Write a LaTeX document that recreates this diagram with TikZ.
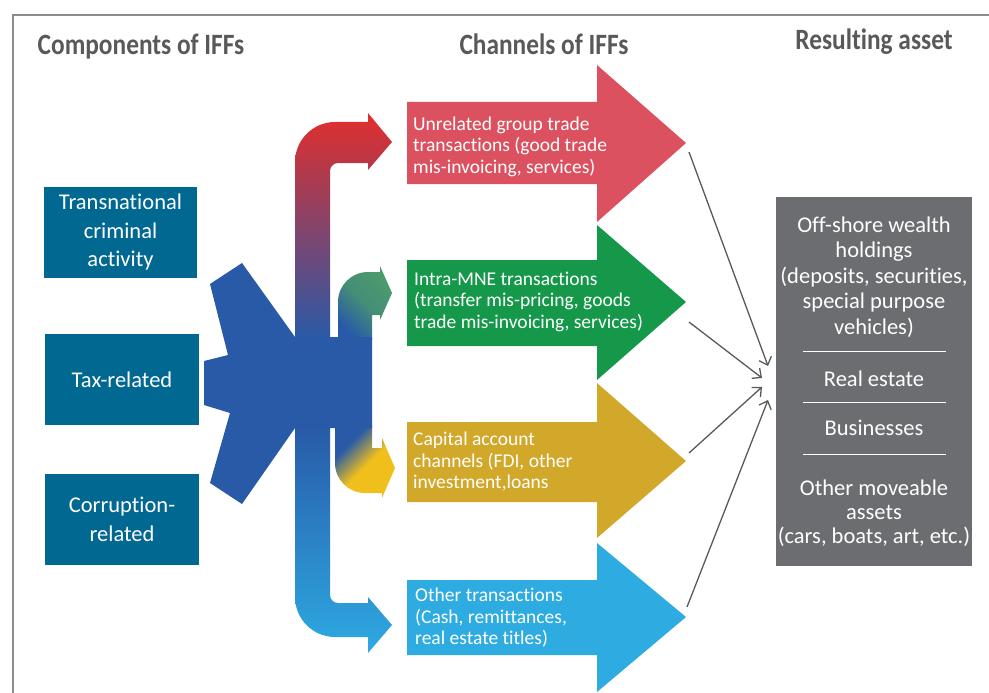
\documentclass[tikz,border=0pt]{standalone}
\usepackage{fontspec}
\setmainfont{Carlito}[Ligatures={NoCommon}]
\newfontfamily\headfont[FakeStretch=0.86,Ligatures={NoCommon}]{Carlito}
\usetikzlibrary{arrows.meta}
\definecolor{framegray}{RGB}{140,140,142}
\definecolor{headgray}{RGB}{88,89,91}
\definecolor{compteal}{RGB}{0,104,145}
\definecolor{bodyblue}{RGB}{40,90,168}
\definecolor{topred}{RGB}{226,46,44}
\definecolor{midred}{RGB}{196,60,92}
\definecolor{branchgreen}{RGB}{76,155,107}
\definecolor{branchyellow}{RGB}{241,191,28}
\definecolor{lightblue}{RGB}{46,170,226}
\definecolor{midblue}{RGB}{42,118,194}
\definecolor{chanred}{RGB}{220,81,96}
\definecolor{changreen}{RGB}{22,152,74}
\definecolor{chanyellow}{RGB}{210,168,42}
\definecolor{chanblue}{RGB}{46,172,226}
\definecolor{assetgray}{RGB}{108,109,112}
\definecolor{linkgray}{RGB}{89,90,92}
\pgfdeclarehorizontalshading{yellowblend}{100bp}{color(0bp)=(bodyblue); color(43bp)=(bodyblue); color(57bp)=(branchyellow); color(100bp)=(branchyellow)}
\begin{document}
\begin{tikzpicture}[x=1pt,y=-1pt,
  head/.style={text=headgray,inner sep=0pt,font=\headfont\bfseries\fontsize{29.5pt}{32pt}\selectfont},
  compbox/.style={fill=compteal,text=white,minimum width=154pt,minimum height=91pt,align=center,inner sep=0pt,font=\fontsize{22.5pt}{28.5pt}\selectfont},
  chantext/.style={anchor=west,align=left,text=white,inner sep=0pt,font=\fontsize{19.5pt}{21.5pt}\selectfont},
  assettext/.style={text=white,align=center,inner sep=0pt,font=\fontsize{22.5pt}{25.5pt}\selectfont},
  sepline/.style={draw=white,line width=1pt},
  link/.style={draw=linkgray,line width=1.3pt,-{Straight Barb[length=7pt,width=13pt,line width=1.3pt]}}
]
\useasboundingbox (0,0) rectangle (989,693);
\fill[white] (0,0) rectangle (989,693);
% frame
\draw[framegray,line width=1.2pt] (13,693) -- (13,15) -- (989,15);
% headings
\node[head] (hcomp) at (141,47) {Components of IFFs};
\node[head] (hchan) at (544,44) {Channels of IFFs};
\node[head] (hres) at (874,42) {Resulting asset};
% component boxes
\node[compbox,minimum width=153pt] (crime) at (120.5,232.5) {Transnational\\criminal\\activity};
\node[compbox] (tax) at (122,379.5) {Tax-related};
\node[compbox] (corr) at (122,519.5) {Corruption-\\related};
% branches
\shade[top color=topred,middle color=midred,bottom color=bodyblue]
  (295,340) -- (295,162) .. controls (295,140) and (313,122) .. (335,122)
  -- (368,122) -- (368,113) -- (392,142) -- (368,170) -- (368,163) -- (338,163)
  .. controls (333.6,163) and (330,166.6) .. (330,171) -- (330,340) -- cycle;
\shade[top color=branchgreen,bottom color=bodyblue,middle color=branchgreen!80!bodyblue,shading angle=-45]
  (338,340) -- (338,302) .. controls (338,285.4) and (351.4,272) .. (368,272)
  -- (380,272) -- (380,266) -- (392,293) -- (380,320) -- (380,315) -- (372,315) -- (372,340) -- cycle;
\begin{scope}
  \clip (335,425) -- (335,463) .. controls (335,479.6) and (348.4,493) .. (365,493)
  -- (382,493) -- (382,498) -- (395,468) -- (382,438) -- (382,448) -- (372,448) -- (372,425) -- cycle;
  \shade[shading=yellowblend,shading angle=-45] (306,406) rectangle (406,506);
\end{scope}
\shade[top color=bodyblue,middle color=midblue,bottom color=lightblue]
  (295,425) -- (295,597) .. controls (295,619) and (313,637) .. (335,637)
  -- (368,637) -- (368,653) -- (392,625) -- (368,597) -- (368,603) -- (338,603)
  .. controls (333.6,603) and (330,599.4) .. (330,595) -- (330,425) -- cycle;
% central body
\fill[bodyblue] (242,263) -- (295,337) -- (372,337) -- (372,428) -- (295,428) -- (242,504)
  -- (210,483) -- (230,413) -- (204,405) -- (204,361) -- (228,355) -- (210,284) -- cycle;
% channel arrows
\fill[chanred] (407,102) -- (597,102) -- (597,65) -- (686,143) -- (597,222) -- (597,184) -- (407,184) -- cycle;
\fill[changreen] (407,260) -- (597,260) -- (597,225) -- (686,302) -- (597,380) -- (597,346) -- (407,346) -- cycle;
\fill[chanyellow] (407,422) -- (597,422) -- (597,383) -- (686,461) -- (597,538) -- (597,502) -- (407,502) -- cycle;
\fill[chanblue] (407,580) -- (597,580) -- (597,543) -- (686,617) -- (597,692) -- (597,655) -- (407,655) -- cycle;
\node[chantext] (tred) at (413,146.5) {Unrelated group trade\\transactions (good trade\\mis-invoicing, services)};
\node[chantext] (tgreen) at (414,301.5) {Intra-MNE transactions\\(transfer mis-pricing, goods\\trade mis-invoicing, services)};
\node[chantext] (tyellow) at (413,461.5) {Capital account\\channels (FDI, other\\investment,loans};
\node[chantext] (tblue) at (415,618) {Other transactions\\(Cash, remittances,\\real estate titles)};
% asset box
\node[fill=assetgray,minimum width=196pt,minimum height=369pt,inner sep=0pt] (assets) at (874,381.5) {};
\node[assettext] (offshore) at (874,277) {Off-shore wealth\\holdings\\(deposits, securities,\\special purpose\\vehicles)};
\node[assettext] (realestate) at (874,379) {Real estate};
\node[assettext] (business) at (874,428) {Businesses};
\node[assettext,font=\fontsize{22.5pt}{24pt}\selectfont] (movable) at (874,513) {Other moveable\\assets\\(cars, boats, art, etc.)};
\draw[sepline] (803,351) -- (946,351);
\draw[sepline] (803,402) -- (946,402);
\draw[sepline] (803,454) -- (946,454);
% connectors
\coordinate (sred) at (689,152);
\coordinate (sgreen) at (689,322);
\coordinate (syellow) at (689,453);
\coordinate (sblue) at (687,607);
\coordinate (ered) at (768,366);
\coordinate (egreen) at (762,378);
\coordinate (eyellow) at (762,387);
\coordinate (eblue) at (768,400);
\draw[link] (sred) -- (ered);
\draw[link] (sgreen) -- (egreen);
\draw[link] (syellow) -- (eyellow);
\draw[link] (sblue) -- (eblue);
\end{tikzpicture}
\end{document}
